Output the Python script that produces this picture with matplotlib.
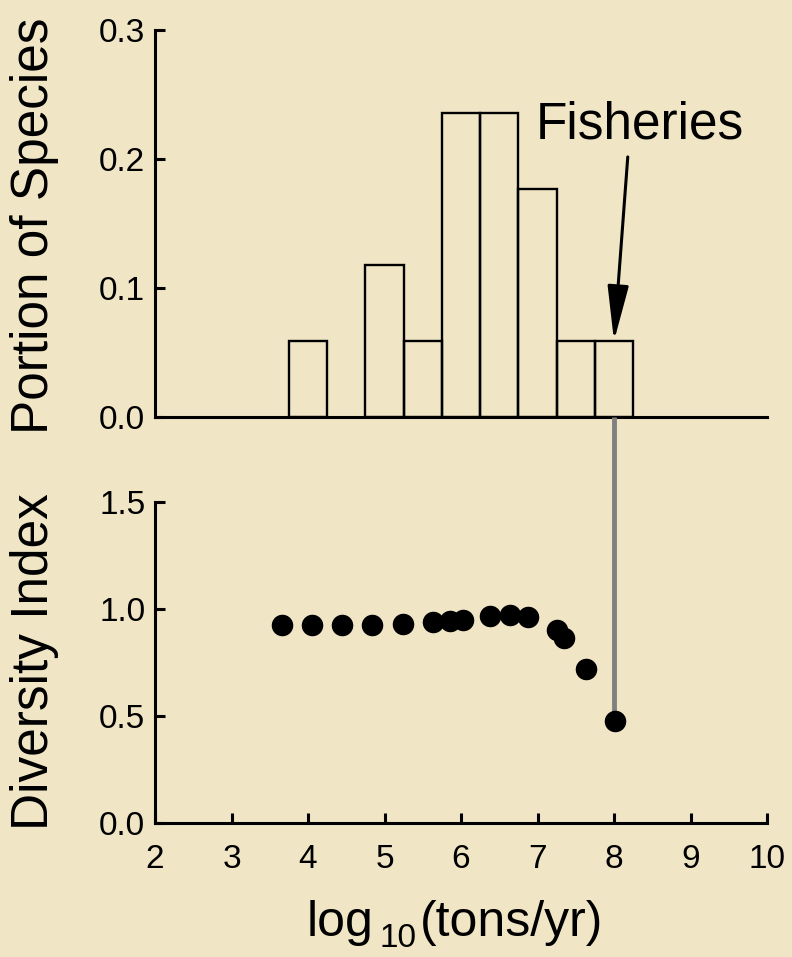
import matplotlib
matplotlib.use("Agg")
import matplotlib.pyplot as plt

plt.rcParams['font.family'] = ['Liberation Sans', 'DejaVu Sans']

# Histogram data (bin centres in log10 tons/yr, portion of species)
bin_centers = [4.0, 5.0, 5.5, 6.0, 6.5, 7.0, 7.5, 8.0]
portions = [1/17, 2/17, 1/17, 4/17, 4/17, 3/17, 1/17, 1/17]
bin_width = 0.5

# Diversity index points
div_x = [3.66, 4.05, 4.45, 4.84, 5.24, 5.64, 5.86, 6.03, 6.38, 6.64, 6.88, 7.25, 7.34, 7.64, 8.01]
div_y = [0.925, 0.925, 0.925, 0.925, 0.93, 0.938, 0.945, 0.949, 0.967, 0.972, 0.964, 0.902, 0.863, 0.718, 0.478]

fisheries_x = 8.0
fisheries_bar = 1/17
fisheries_div = 0.478
arrow_tail = (8.18, 0.2016)
label_pos = (8.34, 0.216)

top_yticks = [0.0, 0.1, 0.2, 0.3]
bot_yticks = [0.0, 0.5, 1.0, 1.5]
xticks = [2, 3, 4, 5, 6, 7, 8, 9, 10]

bg = '#F0E5C5'
W, H = 792, 957
fig = plt.figure(figsize=(W/100, H/100), dpi=100, facecolor=bg)

left = 155/W
width = (767-155)/W
ax1 = fig.add_axes([left, 1-417/H, width, (417-30)/H])
ax2 = fig.add_axes([left, 1-823/H, width, (823-502)/H])

for ax in (ax1, ax2):
    ax.set_facecolor('none')
    for s in ('top', 'right'):
        ax.spines[s].set_visible(False)
    for s in ('left', 'bottom'):
        ax.spines[s].set_linewidth(2.2)
        ax.spines[s].set_color('black')
    ax.set_xlim(2, 10)
    ax.tick_params(direction='in', length=7, width=2.2, labelsize=24, pad=7)

# top histogram
ax1.bar(bin_centers, portions, width=bin_width, facecolor='none',
        edgecolor='black', linewidth=1.7, zorder=3)
ax1.set_ylim(0, 0.3)
ax1.set_yticks(top_yticks)
ax1.set_yticklabels([f'{v:.1f}' for v in top_yticks])
ax1.set_xticks([])
ax1.text(label_pos[0], label_pos[1], 'Fisheries', ha='center', va='baseline', fontsize=37)
ax1.annotate('', xy=(fisheries_x, fisheries_bar), xytext=arrow_tail,
             arrowprops=dict(arrowstyle='-|>,head_length=3.4,head_width=0.65',
                             mutation_scale=10, color='black', lw=2.2,
                             shrinkA=0, shrinkB=0))

# bottom scatter
ax2.set_ylim(0, 1.5)
ax2.set_yticks(bot_yticks)
ax2.set_yticklabels([f'{v:.1f}' for v in bot_yticks])
ax2.set_xticks(xticks)
ax2.set_xticklabels([str(v) for v in xticks])
ax2.tick_params(axis='x', pad=15)
ax2.scatter(div_x, div_y, s=210, color='black', zorder=4, clip_on=False)

# grey connector from the top histogram baseline to the fisheries point
fig.canvas.draw()
top_in_ax2 = ax2.transData.inverted().transform(ax1.transData.transform((fisheries_x, 0)))[1]
ax2.plot([fisheries_x, fisheries_x], [fisheries_div, top_in_ax2], color='#808080',
         linewidth=3.5, zorder=2, clip_on=False, solid_capstyle='butt')

# labels
fig.text(35/W, 1-226/H, 'Portion of Species', rotation=90, ha='center', va='center', fontsize=37)
fig.text(35/W, 1-662/H, 'Diversity Index', rotation=90, ha='center', va='center', fontsize=37)
fig.text(307/W, 1-936/H, 'log', ha='left', va='baseline', fontsize=36)
fig.text(380/W, 1-947/H, '10', ha='left', va='baseline', fontsize=24)
fig.text(420/W, 1-936/H, '(tons/yr)', ha='left', va='baseline', fontsize=36)

fig.savefig('out.png', dpi=100, facecolor=bg)
